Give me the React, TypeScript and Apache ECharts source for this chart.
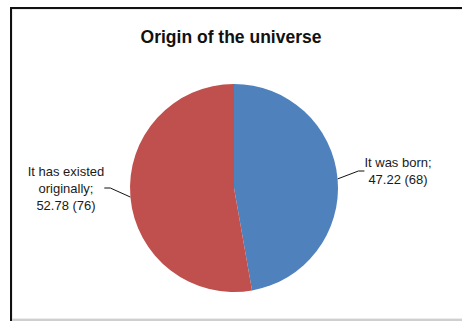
import React, { useEffect, useRef } from "react";
import * as echarts from "echarts";

const titleText = "Origin of the universe";
const categories = ["It was born", "It has existed\noriginally"];
const counts = [68, 76];
const sliceColors = ["#4F81BD", "#C0504D"];

export default function App() {
  const ref = useRef<HTMLDivElement>(null);

  useEffect(() => {
    if (!ref.current) return;
    const chart = echarts.init(ref.current, null, { renderer: "svg" });
    const labelSpots = [
      { x: 398, y: 171 },
      { x: 66, y: 188 },
    ];
    chart.setOption({
      animation: false,
      backgroundColor: "#ffffff",
      title: {
        text: titleText,
        left: "center",
        top: 23,
        textStyle: {
          fontFamily: "Liberation Sans, Arial, sans-serif",
          fontSize: 17.5,
          fontWeight: "bold",
          color: "#111111",
        },
      },
      graphic: [
        { type: "rect", shape: { x: 12, y: 9, width: 460, height: 310 }, style: { fill: "#ffffff", stroke: "#d8d8d8", lineWidth: 1 }, silent: true },
        { type: "line", shape: { x1: 11, y1: 7, x2: 11, y2: 321 }, style: { stroke: "#111111", lineWidth: 2 }, silent: true },
        { type: "line", shape: { x1: 10, y1: 8, x2: 462, y2: 8 }, style: { stroke: "#111111", lineWidth: 2 }, silent: true },
        { type: "line", shape: { x1: 12, y1: 320, x2: 462, y2: 320 }, style: { stroke: "#cfcfcf", lineWidth: 2 }, silent: true },
      ],
      series: [
        {
          type: "pie",
          center: [234, 188],
          radius: 104,
          startAngle: 90,
          clockwise: true,
          data: categories.map((name, i) => ({
            name,
            value: counts[i],
            itemStyle: { color: sliceColors[i] },
          })),
          label: {
            show: true,
            position: "outside",
            formatter: "{b};\n{d} ({c})",
            fontFamily: "Liberation Sans, Arial, sans-serif",
            fontSize: 13,
            lineHeight: 17,
            color: "#1a1a1a",
            align: "center",
          },
          labelLine: {
            show: true,
            length: 12,
            length2: 6,
            lineStyle: { color: "#111111", width: 1 },
          },
          labelLayout: (params: any) => {
            const p = labelSpots[params.dataIndex];
            return { x: p.x, y: p.y, align: "center", verticalAlign: "middle" };
          },
        },
      ],
    });
    return () => chart.dispose();
  }, []);

  return (
    <div
      ref={ref}
      style={{ position: "fixed", left: 0, top: 0, width: 462, height: 321 }}
    />
  );
}
